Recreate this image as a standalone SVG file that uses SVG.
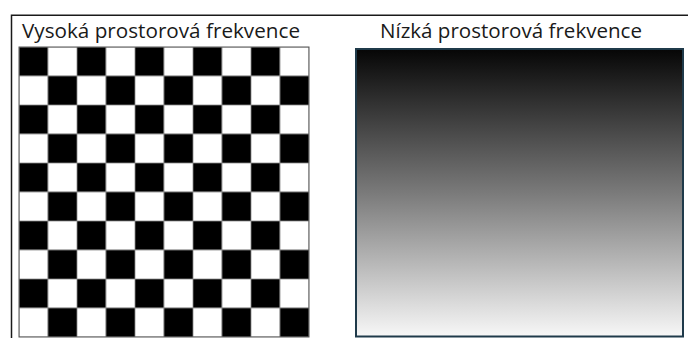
<svg xmlns="http://www.w3.org/2000/svg" width="688" height="338" viewBox="0 0 688 338">
<defs>
<style>
.frame{fill:none;stroke:#1a1a1a;stroke-width:1.5}
.lbl{font-family:"Open Sans","Liberation Sans",sans-serif;font-size:20.5px;fill:#1a1a1a}
.b{fill:#000;stroke:#8a8a8a;stroke-width:0.8}
.w{fill:#fff;stroke:#8a8a8a;stroke-width:0.8}
</style>
<linearGradient id="g" x1="0" y1="0" x2="0" y2="1">
<stop offset="0" stop-color="#060606"/>
<stop offset="0.5" stop-color="#7a7a7a"/>
<stop offset="1" stop-color="#f7f7f7"/>
</linearGradient>
<pattern id="chk" x="19" y="47" width="58" height="58" patternUnits="userSpaceOnUse">
<rect class="b" x="0" y="0" width="29" height="29"/>
<rect class="w" x="29" y="0" width="29" height="29"/>
<rect class="w" x="0" y="29" width="29" height="29"/>
<rect class="b" x="29" y="29" width="29" height="29"/>
</pattern>
</defs>
<rect width="688" height="338" fill="#fff"/>
<g id="frame">
<path class="frame" d="M11.5,338 V15.3 H688"/>
</g>
<g id="high">
<text class="lbl" x="22" y="37.5" textLength="278" lengthAdjust="spacingAndGlyphs">Vysoká prostorová frekvence</text>
<rect x="19" y="47" width="290" height="290" fill="url(#chk)" stroke="#555" stroke-width="1"/>
</g>
<g id="low">
<text class="lbl" x="380" y="37.5" textLength="262" lengthAdjust="spacingAndGlyphs">Nízká prostorová frekvence</text>
<rect x="356" y="49" width="327" height="287.5" fill="url(#g)" stroke="#1f3a4a" stroke-width="2"/>
</g>
<g id="connectors"/>
</svg>
